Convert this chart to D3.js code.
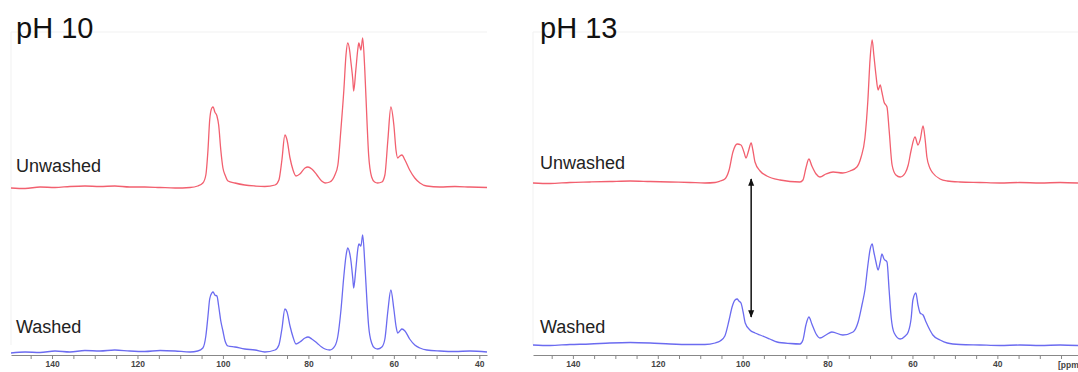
<!DOCTYPE html>
<html>
<head>
<meta charset="utf-8">
<script src="https://cdn.jsdelivr.net/npm/d3@7"></script>
<style>
  html, body { margin: 0; padding: 0; background: #fff; }
  svg { display: block; }
  .title { font-family: "Liberation Sans", Arial, sans-serif; font-size: 29px; fill: #111; }
  .label { font-family: "Liberation Sans", Arial, sans-serif; font-size: 18px; fill: #222; }
  .axis text { font-family: "Liberation Sans", Arial, sans-serif; font-size: 8.5px; font-weight: bold; fill: #444; }
  .axis path, .axis line { stroke: #888; }
</style>
</head>
<body>
<svg id="chart" width="1078" height="372"></svg>
<script>
// 13C CP/MAS spectra, chemical shift (ppm) vs. intensity (a.u.)

// pH 10, unwashed
const ph10UnwashedPpm = [149.6,146.3,142.8,139.3,135.8,132.3,128.8,125.3,121.8,118.3,114.7,111.2,107.7,105.9,
  104.7,104.0,103.5,103.1,102.6,102.3,101.9,101.4,101.0,100.5,
  100.0,99.5,98.8,97.2,94.9,92.5,90.2,87.8,86.9,86.2,
  85.5,85.0,84.3,83.6,82.9,82.0,80.8,80.1,79.2,78.0,
  76.9,76.1,75.0,73.8,73.1,72.4,71.7,71.2,70.8,70.3,
  70.1,69.6,69.4,68.9,68.4,68.2,67.7,67.3,66.8,66.3,
  65.9,65.2,64.5,63.8,62.8,62.1,61.4,60.7,60.0,59.5,
  59.1,58.6,58.1,57.4,56.3,55.1,53.9,52.3,49.2,45.7,
  42.2,38.2];
const ph10UnwashedInt = [0,-0.5,1,0.5,1.5,2,1.5,2,1,1,0.5,0,0.5,2,
  5,13,38,68,80,81,76,72,63,38,
  20,13,7,5,3,2,1.5,3,8,28,
  53,48,30,18,12,14,20,21,19,13,
  7,5,6,13,23,58,98,133,145,136,
  128,108,97,118,140,145,138,150,118,68,
  33,11,6,5,6,13,48,81,63,38,
  30,32,33,28,18,10,5,2,1,1.5,
  1,0.5];

// pH 10, washed
const ph10WashedPpm = ph10UnwashedPpm.slice();
const ph10WashedInt = [-2,-1,-1.5,0,-1,0.5,0,1,0,-0.5,0.5,0,-1,0,
  3,15,35,52,58,59,56,55,45,30,
  20,10,5,4,2,1,-1,1,6,22,
  42,39,25,14,7,9,13,14,12,8,
  4,2,1,5,15,40,75,95,103,97,
  92,72,63,82,103,107,105,116,88,50,
  25,8,3,2,4,12,40,61,42,25,
  18,20,22,20,12,6,3,1,0,-0.5,
  0,-1];

// pH 13, unwashed
const ph13UnwashedPpm = [149.4,145.4,140.7,136.0,131.3,126.5,121.8,117.1,112.4,108.9,
  106.5,105.3,104.2,103.2,102.3,101.3,100.4,99.7,99.2,98.7,
  98.0,97.6,97.1,95.9,94.3,91.2,86.5,85.8,85.1,84.4,
  83.7,82.7,81.8,80.4,78.7,76.4,74.7,73.1,72.1,71.2,
  70.5,70.0,69.5,69.1,68.6,68.1,67.6,67.2,66.7,66.0,
  65.5,64.8,63.9,62.9,61.7,61.0,60.3,59.4,58.7,58.2,
  57.5,57.0,56.6,55.9,55.2,53.5,51.8,48.8,44.1,39.4,
  34.7,29.9,25.2,21.0];
const ph13UnwashedInt = [0,-0.5,0.5,1,1.5,2,1.5,1,0.5,0,
  0.5,2,4,13,31,39,38,31,25,31,
  40,33,21,12,7,3,1,3,15,24,
  17,9,6,9,11,10,12,16,26,45,
  83,123,143,128,108,93,98,91,81,76,
  53,18,8,6,10,18,33,46,38,43,
  57,43,26,15,10,4,2,1,0.5,0,
  0.5,0,0.5,0];

// pH 13, washed
const ph13WashedPpm = [149.4,145.4,140.7,136.0,131.3,126.5,121.8,117.1,112.4,108.9,
  106.5,105.3,104.2,103.2,102.5,101.8,101.3,100.9,100.4,99.9,
  99.4,98.3,97.1,95.9,93.6,91.9,88.8,86.5,85.8,85.1,
  84.4,83.7,82.7,81.8,80.4,79.0,76.4,74.0,72.8,71.9,
  71.2,70.5,70.0,69.5,69.1,68.6,68.1,67.6,67.2,66.7,
  66.0,65.5,65.0,64.3,62.9,61.7,61.0,60.3,59.9,59.2,
  58.7,58.2,57.5,56.8,55.9,55.2,53.5,51.8,48.8,44.1,
  39.4,34.7,29.9,25.2,21.0];
const ph13WashedInt = [0,-0.5,0.5,1,2,2.5,2,1,0.5,0.5,
  2,4,9,25,38,45,46,44,42,33,
  22,15,12,10,6,3,1.5,1,5,20,
  28,21,11,7,10,13,10,13,23,40,
  55,80,95,101,93,83,75,83,91,86,
  83,55,27,12,6,9,13,27,45,52,
  40,32,30,23,15,10,5,2,0.5,0,
  -0.5,0,-0.5,0,-0.5];

// axis ticks
const majorTicks = [140, 120, 100, 80, 60, 40];
const titles = ["pH 10", "pH 13"];
const sampleLabels = ["Unwashed", "Washed"];
const axisUnit = "[ppm]";
const arrowPpm = 98.0;

const colors = { unwashed: "#f2606f", washed: "#6b6bf0" };

const svg = d3.select("#chart");

const panels = [
  { title: titles[0], domain: [149.6, 38.2], range: [11, 487], titleX: 16,
    unwashedBase: 188, washedBase: 351,
    unwashedLabelY: 172, washedLabelY: 333,
    series: [
      { key: "unwashed", ppm: ph10UnwashedPpm, int: ph10UnwashedInt },
      { key: "washed", ppm: ph10WashedPpm, int: ph10WashedInt }
    ], unit: false, arrow: false },
  { title: titles[1], domain: [149.4, 21.0], range: [533, 1078], titleX: 540,
    unwashedBase: 183, washedBase: 345,
    unwashedLabelY: 169, washedLabelY: 333,
    series: [
      { key: "unwashed", ppm: ph13UnwashedPpm, int: ph13UnwashedInt },
      { key: "washed", ppm: ph13WashedPpm, int: ph13WashedInt }
    ], unit: true, arrow: true }
];

const axisY = 355;

panels.forEach(p => {
  const x = d3.scaleLinear().domain(p.domain).range(p.range);
  const yU = d3.scaleLinear().domain([0, 150]).range([p.unwashedBase, p.unwashedBase - 150]);
  const yW = d3.scaleLinear().domain([0, 150]).range([p.washedBase, p.washedBase - 150]);
  const g = svg.append("g");

  // faint plot frame
  g.append("path")
    .attr("d", `M${p.range[0]},${axisY - 10}V32H${Math.min(p.range[1], 1078)}`)
    .attr("fill", "none").attr("stroke", "#f1f1f1").attr("stroke-width", 1);

  // spectra
  p.series.forEach(s => {
    const y = s.key === "unwashed" ? yU : yW;
    const pts = s.ppm.map((v, i) => [v, s.int[i]]);
    const line = d3.line().x(d => x(d[0])).y(d => y(d[1])).curve(d3.curveMonotoneX);
    g.append("path").datum(pts)
      .attr("d", line)
      .attr("fill", "none")
      .attr("stroke", colors[s.key])
      .attr("stroke-width", 1.3)
      .attr("stroke-linejoin", "round");
  });

  // x axis: minor ticks every 5 ppm, labels every 20
  const lo = Math.ceil(Math.min(...p.domain) / 5) * 5;
  const hi = Math.floor(Math.max(...p.domain) / 5) * 5;
  const minor = d3.range(lo, hi + 1, 5);
  const axis = d3.axisBottom(x).tickValues(minor).tickSize(4).tickSizeOuter(0)
    .tickFormat(d => majorTicks.includes(d) ? d : "");
  const ax = g.append("g").attr("class", "axis")
    .attr("transform", `translate(0,${axisY})`).call(axis);
  ax.selectAll("text").attr("dy", "0.95em").attr("y", 4);

  if (p.unit) {
    // unit label sits at the right edge of the axis
    g.append("text")
      .attr("x", 1058).attr("y", 368)
      .style("font-family", "Liberation Sans, Arial, sans-serif")
      .style("font-size", "8.5px").style("font-weight", "bold").style("fill", "#444")
      .text(axisUnit);
  }

  // titles and sample labels
  g.append("text").attr("class", "title").attr("x", p.titleX).attr("y", 38).text(p.title);
  g.append("text").attr("class", "label").attr("x", p.titleX).attr("y", p.unwashedLabelY).text(sampleLabels[0]);
  g.append("text").attr("class", "label").attr("x", p.titleX).attr("y", p.washedLabelY).text(sampleLabels[1]);

  // double-headed arrow marking the ~98 ppm signal
  if (p.arrow) {
    const defs = svg.append("defs");
    ["start", "end"].forEach(k => {
      defs.append("marker")
        .attr("id", "head-" + k)
        .attr("viewBox", "0 0 10 10").attr("refX", 9).attr("refY", 5)
        .attr("markerWidth", 5).attr("markerHeight", 5)
        .attr("orient", k === "start" ? "auto-start-reverse" : "auto")
        .append("path").attr("d", "M0,1L10,5L0,9Z").attr("fill", "#111");
    });
    g.append("line")
      .attr("x1", x(arrowPpm)).attr("x2", x(arrowPpm))
      .attr("y1", yU(4)).attr("y2", yW(28))
      .attr("stroke", "#111").attr("stroke-width", 1.5)
      .attr("marker-start", "url(#head-start)")
      .attr("marker-end", "url(#head-end)");
  }
});
</script>
</body>
</html>
